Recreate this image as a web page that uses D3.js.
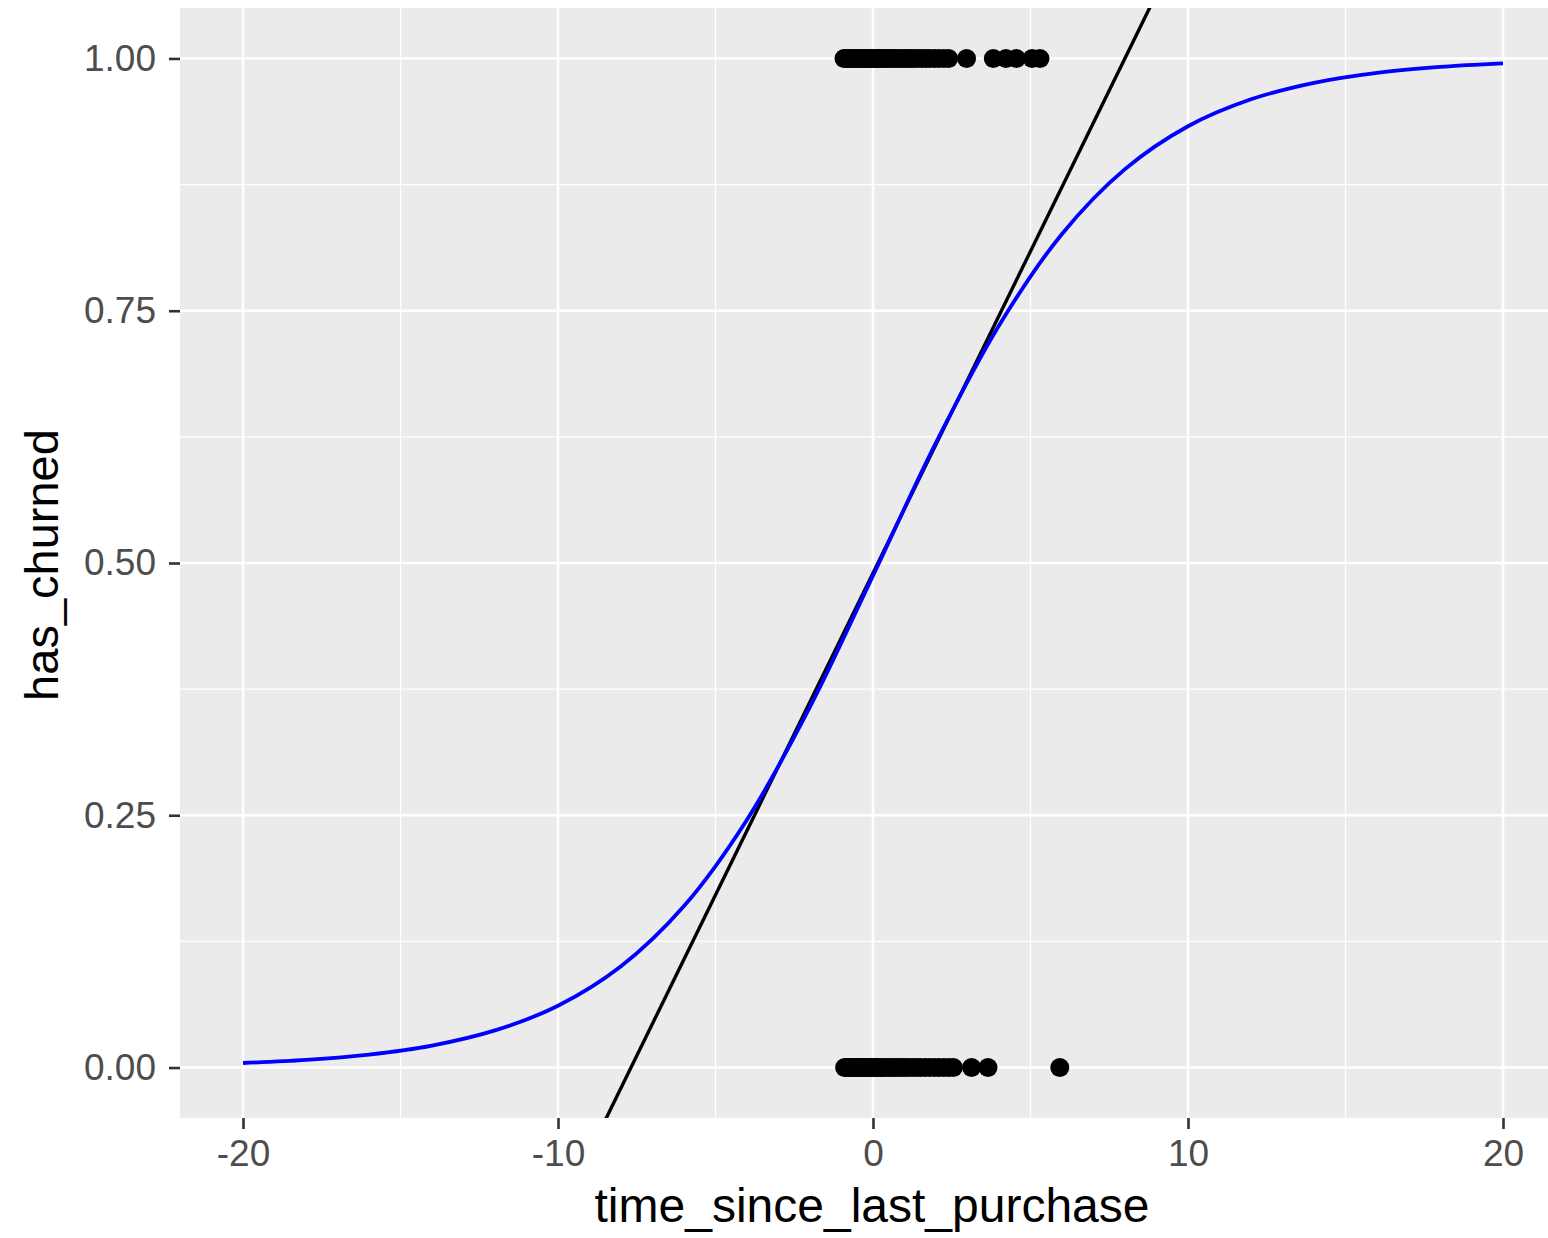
<!DOCTYPE html>
<html>
<head>
<meta charset="utf-8">
<script src="https://cdn.jsdelivr.net/npm/d3@7"></script>
<style>
  html, body { margin: 0; padding: 0; background: #ffffff; }
  svg { display: block; }
</style>
</head>
<body>
<script>
// ---- Data ----
const xTicks = [-20, -10, 0, 10, 20];
const xTickLabels = ["-20", "-10", "0", "10", "20"];
const xMinorTicks = [-15, -5, 5, 15];
const yTicks = [0, 0.25, 0.5, 0.75, 1];
const yMinorTicks = [0.125, 0.375, 0.625, 0.875];
const yTickLabels = ["0.00", "0.25", "0.50", "0.75", "1.00"];

// Blue fitted curve
const curveX = [-20, -18, -16, -14, -12, -10, -8, -6, -4, -2, 0, 2, 4, 6, 8, 10, 12, 14, 16, 18, 20];
const curveY = [0.0045, 0.0076, 0.0129, 0.0218, 0.0368, 0.0612, 0.1003, 0.160, 0.2456, 0.3575, 0.4875,
                0.6192, 0.7353, 0.8261, 0.8903, 0.9328, 0.9595, 0.9759, 0.9858, 0.9916, 0.9951];

// Black straight line (two end points, clipped to panel)
const lineX = [-9, 9];
const lineY = [-0.084, 1.064];

// Observed points: has_churned = 1
const churnedX = [-0.92, -0.85, -0.78, -0.7, -0.62, -0.55, -0.47, -0.4, -0.32, -0.25, -0.18, -0.1, -0.03,
                  0.05, 0.12, 0.2, 0.28, 0.35, 0.43, 0.5, 0.6, 0.7, 0.8, 0.9, 1.0, 1.1, 1.2, 1.3, 1.42,
                  1.55, 1.68, 1.8, 1.95, 2.1, 2.25, 2.4, 2.97, 3.82, 4.22, 4.55, 5.05, 5.3];
// Observed points: has_churned = 0
const retainedX = [-0.9, -0.83, -0.76, -0.68, -0.6, -0.52, -0.45, -0.37, -0.3, -0.22, -0.15, -0.07, 0.0,
                   0.08, 0.16, 0.24, 0.32, 0.4, 0.5, 0.6, 0.7, 0.8, 0.9, 1.0, 1.12, 1.25, 1.38, 1.5,
                   1.65, 1.8, 1.95, 2.1, 2.25, 2.4, 2.55, 3.13, 3.65, 5.93];

// ---- Layout ----
const W = 1548, H = 1238;
const panel = { left: 180, top: 8, right: 1566, bottom: 1118 };

const svg = d3.select("body").append("svg").attr("width", W).attr("height", H);

const x = d3.scaleLinear().domain([-22, 22]).range([panel.left, panel.right]);
const y = d3.scaleLinear().domain([-0.05, 1.05]).range([panel.bottom, panel.top]);

svg.append("defs").append("clipPath").attr("id", "clip")
  .append("rect").attr("x", panel.left).attr("y", panel.top)
  .attr("width", panel.right - panel.left).attr("height", panel.bottom - panel.top);

// Panel background
svg.append("rect").attr("x", panel.left).attr("y", panel.top)
  .attr("width", panel.right - panel.left).attr("height", panel.bottom - panel.top)
  .attr("fill", "#EBEBEB");

const grid = svg.append("g").attr("clip-path", "url(#clip)");
// minor grid
grid.selectAll("line.xminor").data(xMinorTicks).join("line")
  .attr("x1", d => x(d)).attr("x2", d => x(d)).attr("y1", panel.top).attr("y2", panel.bottom)
  .attr("stroke", "#ffffff").attr("stroke-width", 1.2);
grid.selectAll("line.yminor").data(yMinorTicks).join("line")
  .attr("y1", d => y(d)).attr("y2", d => y(d)).attr("x1", panel.left).attr("x2", panel.right)
  .attr("stroke", "#ffffff").attr("stroke-width", 1.2);
// major grid
grid.selectAll("line.xmajor").data(xTicks).join("line")
  .attr("x1", d => x(d)).attr("x2", d => x(d)).attr("y1", panel.top).attr("y2", panel.bottom)
  .attr("stroke", "#ffffff").attr("stroke-width", 2.6);
grid.selectAll("line.ymajor").data(yTicks).join("line")
  .attr("y1", d => y(d)).attr("y2", d => y(d)).attr("x1", panel.left).attr("x2", panel.right)
  .attr("stroke", "#ffffff").attr("stroke-width", 2.6);

const plot = svg.append("g").attr("clip-path", "url(#clip)");

// Points
plot.selectAll("circle.c1").data(churnedX).join("circle")
  .attr("cx", d => x(d)).attr("cy", y(1)).attr("r", 9.5).attr("fill", "#000000");
plot.selectAll("circle.c0").data(retainedX).join("circle")
  .attr("cx", d => x(d)).attr("cy", y(0)).attr("r", 9.5).attr("fill", "#000000");

// Black line
plot.append("path")
  .datum(lineX.map((d, i) => [d, lineY[i]]))
  .attr("d", d3.line().x(d => x(d[0])).y(d => y(d[1])))
  .attr("fill", "none").attr("stroke", "#000000").attr("stroke-width", 3.4);

// Blue curve
plot.append("path")
  .datum(curveX.map((d, i) => [d, curveY[i]]))
  .attr("d", d3.line().x(d => x(d[0])).y(d => y(d[1])).curve(d3.curveCatmullRom.alpha(0.5)))
  .attr("fill", "none").attr("stroke", "#0000FF").attr("stroke-width", 3.8);

// Axes
const font = "'Liberation Sans', Arial, Helvetica, sans-serif";
const xAxis = d3.axisBottom(x).tickValues(xTicks).tickSize(11).tickPadding(11)
  .tickFormat((d, i) => xTickLabels[i]);
const gx = svg.append("g").attr("transform", `translate(0,${panel.bottom})`).call(xAxis);
gx.select(".domain").remove();
gx.selectAll(".tick line").attr("stroke", "#333333").attr("stroke-width", 2.6);
gx.selectAll(".tick text").attr("fill", "#4D4D4D").style("font-family", font).style("font-size", "37px");

const yAxis = d3.axisLeft(y).tickValues(yTicks).tickSize(11).tickPadding(13)
  .tickFormat((d, i) => yTickLabels[i]);
const gy = svg.append("g").attr("transform", `translate(${panel.left},0)`).call(yAxis);
gy.select(".domain").remove();
gy.selectAll(".tick line").attr("stroke", "#333333").attr("stroke-width", 2.6);
gy.selectAll(".tick text").attr("fill", "#4D4D4D").style("font-family", font).style("font-size", "37px");

// Axis titles
svg.append("text")
  .attr("x", x(0) - 1).attr("y", 1222)
  .attr("text-anchor", "middle")
  .style("font-family", font).style("font-size", "48px").attr("fill", "#000000")
  .text("time_since_last_purchase");

svg.append("text")
  .attr("transform", `translate(58,${(panel.top + panel.bottom) / 2 + 2}) rotate(-90)`)
  .attr("text-anchor", "middle")
  .style("font-family", font).style("font-size", "47px").attr("fill", "#000000")
  .text("has_churned");
</script>
</body>
</html>
